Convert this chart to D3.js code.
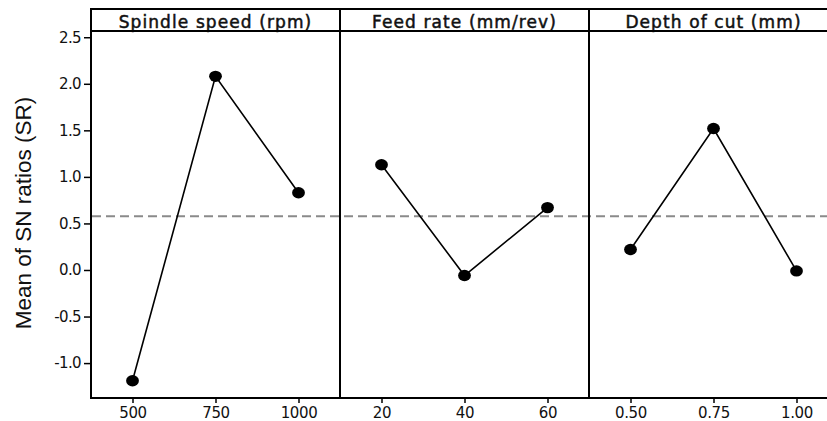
<!DOCTYPE html>
<html>
<head>
<meta charset="utf-8">
<script src="https://cdn.jsdelivr.net/npm/d3@7"></script>
<style>
  body { margin: 0; background: #fff; overflow: hidden; }
  svg { display: block; }
</style>
</head>
<body>
<div id="vis"></div>
<script>
// factor names, levels and mean SN ratios
var factors = ['Spindle speed (rpm)', 'Feed rate (mm/rev)', 'Depth of cut (mm)'];
var levels = [
  ['500', '750', '1000'],
  ['20', '40', '60'],
  ['0.50', '0.75', '1.00']
];
var spindleSN = [-1.19, 2.08, 0.83];
var feedSN = [1.13, -0.06, 0.67];
var depthSN = [0.22, 1.52, -0.01];
var yTicks = [-1.0, -0.5, 0.0, 0.5, 1.0, 1.5, 2.0, 2.5];

var seriesSN = [spindleSN, feedSN, depthSN];

var width = 827;
var height = 421;
// note: "top" is taken by window.top, so use plotTop
var plotLeft = 91, plotTop = 9, headerH = 22, plotBottom = 398;
var panelW = 249;

var svg = d3.select('#vis').append('svg')
  .attr('width', width)
  .attr('height', height);

var y = d3.scaleLinear()
  .domain([-1.375, 2.567])
  .range([plotBottom, plotTop + headerH]);

var grandMean = d3.mean(d3.merge(seriesSN));

// plain hyphen for negatives, like the original
var fmt = function (d) { return d.toFixed(1); };

// y axis
var yAxis = svg.append('g')
  .attr('transform', 'translate(' + plotLeft + ',0)')
  .call(d3.axisLeft(y).tickValues(yTicks).tickFormat(fmt).tickSize(7).tickPadding(3));
yAxis.select('.domain').remove();
yAxis.selectAll('line').attr('stroke', '#000').attr('stroke-width', 1.5);
yAxis.selectAll('text')
  .attr('font-family', 'DejaVu Sans')
  .attr('font-size', 15)
  .attr('letter-spacing', '-0.6px')
  .attr('fill', '#111');

svg.append('text')
  .attr('transform', 'translate(31,213) rotate(-90)')
  .attr('text-anchor', 'middle')
  .attr('font-family', 'Liberation Sans')
  .attr('font-size', 22.5)
  .attr('fill', '#111')
  .text('Mean of SN ratios (SR)');

// mean line across all panels
svg.append('line')
  .attr('x1', plotLeft + 1)
  .attr('x2', plotLeft + panelW * 3)
  .attr('y1', y(grandMean))
  .attr('y2', y(grandMean))
  .attr('stroke', '#8a8a8a')
  .attr('stroke-width', 2)
  .attr('stroke-dasharray', '9,5');

factors.forEach(function (name, i) {
  var x0 = plotLeft + panelW * i;
  var x = d3.scalePoint()
    .domain(levels[i])
    .range([x0, x0 + panelW])
    .padding(0.5);

  var xAxis = svg.append('g')
    .attr('transform', 'translate(0,' + plotBottom + ')')
    .call(d3.axisBottom(x).tickSize(5).tickPadding(4));
  xAxis.select('.domain').remove();
  xAxis.selectAll('line').attr('stroke', '#000').attr('stroke-width', 1.5);
  xAxis.selectAll('text')
    .attr('font-family', 'DejaVu Sans')
    .attr('font-size', 15)
    .attr('letter-spacing', '-0.4px')
    .attr('fill', '#111');

  // header
  svg.append('text')
    .attr('x', x0 + panelW / 2)
    .attr('y', plotTop + 18.5)
    .attr('text-anchor', 'middle')
    .attr('font-family', 'DejaVu Sans')
    .attr('font-size', 17)
    .attr('letter-spacing', '1.1px')
    .attr('fill', '#111')
    .attr('stroke', '#111')
    .attr('stroke-width', 0.5)
    .text(name);

  var pts = levels[i].map(function (d, j) { return { level: d, sn: seriesSN[i][j] }; });

  svg.append('path')
    .datum(pts)
    .attr('fill', 'none')
    .attr('stroke', '#000')
    .attr('stroke-width', 1.6)
    .attr('d', d3.line().x(function (d) { return x(d.level); }).y(function (d) { return y(d.sn); }));

  svg.selectAll('.pt' + i)
    .data(pts)
    .enter()
    .append('ellipse')
    .attr('class', 'pt' + i)
    .attr('cx', function (d) { return x(d.level); })
    .attr('cy', function (d) { return y(d.sn); })
    .attr('rx', 6.4)
    .attr('ry', 5.7)
    .attr('fill', '#000');
});

// frame, header rule and panel dividers
var frame = svg.append('g').attr('stroke', '#000').attr('stroke-width', 2).attr('fill', 'none');
frame.append('rect')
  .attr('x', plotLeft)
  .attr('y', plotTop)
  .attr('width', panelW * 3)
  .attr('height', plotBottom - plotTop);
frame.append('line')
  .attr('x1', plotLeft).attr('x2', plotLeft + panelW * 3)
  .attr('y1', plotTop + headerH).attr('y2', plotTop + headerH);
[1, 2].forEach(function (k) {
  frame.append('line')
    .attr('x1', plotLeft + panelW * k).attr('x2', plotLeft + panelW * k)
    .attr('y1', plotTop).attr('y2', plotBottom);
});
</script>
</body>
</html>
